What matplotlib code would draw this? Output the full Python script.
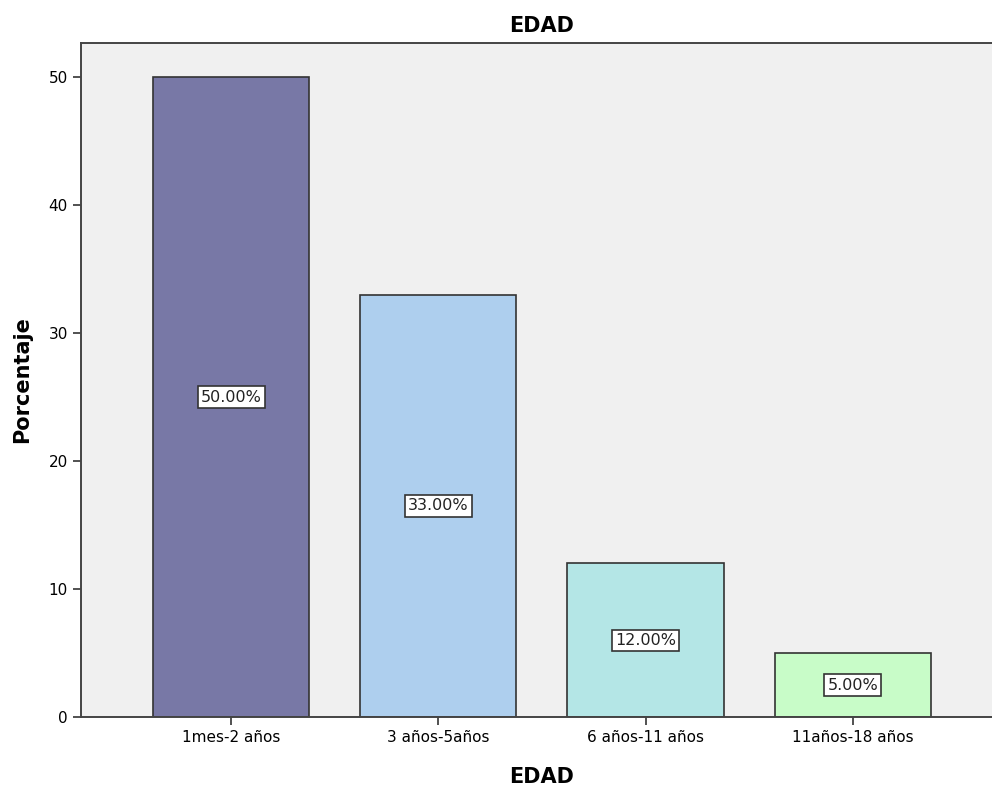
import numpy as np
import matplotlib
matplotlib.use("Agg")
import matplotlib.pyplot as plt

categories = ["1mes-2 años", "3 años-5años", "6 años-11 años", "11años-18 años"]
percentages = [50.0, 33.0, 12.0, 5.0]
bar_colors = ["#7878a6", "#aecfee", "#b4e6e6", "#c8fcc8"]
y_ticks = [0, 10, 20, 30, 40, 50]

plt.rcParams['font.family'] = ['DejaVu Sans']

fig = plt.figure(figsize=(9.92, 7.87), dpi=100)
ax = fig.add_axes([81 / 992, 70 / 787, 1.0 - 81 / 992 + 0.01, 674 / 787])
ax.set_facecolor("#f0f0f0")

x = np.arange(len(categories))
bars = ax.bar(x, percentages, width=0.754, color=bar_colors,
              edgecolor="#333333", linewidth=1.2, zorder=2)

for xi, v in zip(x, percentages):
    ax.text(xi, v / 2, f"{v:.2f}%", ha="center", va="center", fontsize=11.5,
            color="#222222",
            bbox=dict(boxstyle="square,pad=0.2", facecolor="white",
                      edgecolor="#333333", linewidth=1.2), zorder=3)

ax.set_xlim(-0.725, 3.72)
ax.set_ylim(0, 52.66)
ax.set_xticks(x)
ax.set_xticklabels(categories, fontsize=11)
ax.set_yticks(y_ticks)
ax.set_yticklabels([str(t) for t in y_ticks], fontsize=11)
ax.tick_params(axis="both", direction="out", length=6, width=1.2, color="#333333")

for side in ["left", "bottom", "top"]:
    ax.spines[side].set_color("#444444")
    ax.spines[side].set_linewidth(1.4)
ax.spines["right"].set_visible(False)

ax.set_title("EDAD", fontsize=15, fontweight="bold", pad=8)
ax.set_xlabel("EDAD", fontsize=15, fontweight="bold", labelpad=16)
ax.set_ylabel("Porcentaje", fontsize=15, fontweight="bold", labelpad=12)

fig.savefig("out.png", dpi=100)
